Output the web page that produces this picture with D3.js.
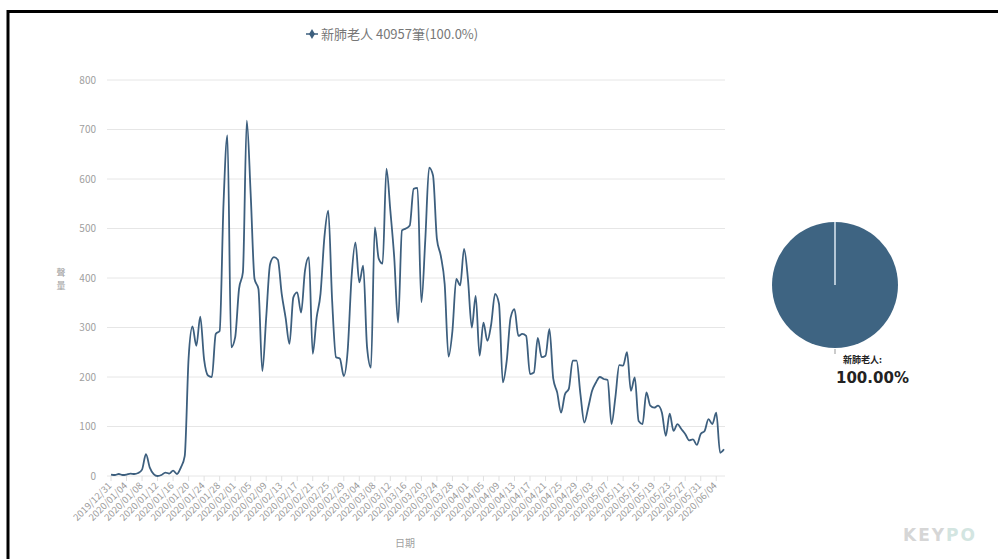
<!DOCTYPE html>
<html>
<head>
<meta charset="utf-8">
<script src="https://cdn.jsdelivr.net/npm/d3@7"></script>
<style>
  body { margin: 0; background: #fff; }
  svg { display: block; font-family: "Noto Sans CJK TC", "Noto Sans", sans-serif; }
</style>
</head>
<body>
<div id="content"></div>
<script>
//-- data
const seriesName = "新肺老人";
const seriesTotal = "40957筆(100.0%)";
const xTitle = "日期";
const yTitle = "聲量";
const dailyCounts = [
  3, 2, 4, 2, 3, 5, 4, 6, 13, 44, 17, 4, 0, 2, 7, 5, 11, 4, 17, 40,
  238, 302, 263, 322, 235, 203, 200, 287, 293, 550, 688, 260, 280, 378, 412, 718, 570, 398, 378, 212,
  320, 428, 442, 437, 368, 320, 267, 361, 371, 330, 415, 442, 247, 320, 368, 482, 536, 354, 240, 237,
  202, 253, 401, 472, 391, 425, 260, 219, 502, 439, 429, 621, 536, 442, 310, 496, 500, 506, 580, 582,
  351, 476, 623, 607, 479, 445, 388, 241, 293, 398, 385, 459, 398, 300, 364, 243, 310, 273, 307, 368,
  348, 189, 233, 320, 337, 283, 287, 283, 206, 209, 279, 240, 243, 297, 196, 169, 128, 165, 176, 233,
  233, 165, 108, 138, 172, 189, 200, 196, 194, 105, 159, 224, 223, 250, 172, 199, 111, 105, 169, 142,
  138, 142, 128, 81, 126, 91, 105, 95, 85, 72, 74, 63, 85, 91, 115, 105, 128, 47, 54
];
const tickLabels = [
  "2019/12/31", "2020/01/04", "2020/01/08", "2020/01/12", "2020/01/16", "2020/01/20", "2020/01/24", "2020/01/28",
  "2020/02/01", "2020/02/05", "2020/02/09", "2020/02/13", "2020/02/17", "2020/02/21", "2020/02/25", "2020/02/29",
  "2020/03/04", "2020/03/08", "2020/03/12", "2020/03/16", "2020/03/20", "2020/03/24", "2020/03/28",
  "2020/04/01", "2020/04/05", "2020/04/09", "2020/04/13", "2020/04/17", "2020/04/21", "2020/04/25", "2020/04/29",
  "2020/05/03", "2020/05/07", "2020/05/11", "2020/05/15", "2020/05/19", "2020/05/23", "2020/05/27", "2020/05/31",
  "2020/06/04"
];
const tickStep = 4; //-- one label every 4 days
const yTicks = [0, 100, 200, 300, 400, 500, 600, 700, 800];
const pieNames = ["新肺老人"];
const pieShares = [100];

//-- dimensions
const width = 998;
const height = 559;
const plot = { left: 107, right: 725, top: 80, bottom: 476 };
const lineColor = "#3d5f7e";
const pieColor = "#3e6482";

const svg = d3
  .select("#content")
  .append("svg")
  .attr("width", width)
  .attr("height", height);

//-- frame
svg
  .append("rect")
  .attr("x", 8)
  .attr("y", 11.5)
  .attr("width", width + 20)
  .attr("height", height + 20)
  .attr("fill", "none")
  .attr("stroke", "#000")
  .attr("stroke-width", 3);

//-- scales
const x = d3
  .scaleLinear()
  .domain([0, dailyCounts.length - 1])
  .range([111, 724]);
const y = d3
  .scaleLinear()
  .domain([0, 800])
  .range([plot.bottom, plot.top]);

//-- y gridlines + labels
const yAxis = svg.append("g").attr("class", "y-axis");
yAxis
  .selectAll("line")
  .data(yTicks)
  .join("line")
  .attr("x1", plot.left)
  .attr("x2", plot.right)
  .attr("y1", (d) => y(d))
  .attr("y2", (d) => y(d))
  .attr("stroke", "#e6e6e6")
  .attr("stroke-width", 1);
yAxis
  .selectAll("text")
  .data(yTicks)
  .join("text")
  .attr("x", 96)
  .attr("y", (d) => y(d))
  .attr("dy", "0.35em")
  .attr("text-anchor", "end")
  .attr("fill", "#a0a0a0")
  .style("font-size", "10px")
  .text((d) => d);

//-- y title, one character per row
svg
  .append("g")
  .selectAll("text")
  .data(yTitle.split(""))
  .join("text")
  .attr("x", 61)
  .attr("y", (d, i) => 273 + i * 13)
  .attr("text-anchor", "middle")
  .attr("dy", "0.35em")
  .attr("fill", "#a0a0a0")
  .style("font-size", "9px")
  .text((d) => d);

//-- x axis ticks + rotated labels
const xAxis = svg.append("g").attr("class", "x-axis");
xAxis
  .selectAll("line")
  .data(tickLabels)
  .join("line")
  .attr("x1", (d, i) => x(i * tickStep))
  .attr("x2", (d, i) => x(i * tickStep))
  .attr("y1", plot.bottom)
  .attr("y2", plot.bottom + 5)
  .attr("stroke", "#e0e0e0");
xAxis
  .selectAll("text")
  .data(tickLabels)
  .join("text")
  .attr("transform", (d, i) => `translate(${x(i * tickStep) - 1},${plot.bottom + 8}) rotate(-45)`)
  .attr("text-anchor", "end")
  .attr("dy", "0.35em")
  .attr("fill", "#999")
  .style("font-size", "9.5px")
  .text((d) => d);

svg
  .append("text")
  .attr("x", 405)
  .attr("y", 547)
  .attr("text-anchor", "middle")
  .attr("fill", "#a0a0a0")
  .style("font-size", "10px")
  .text(xTitle);

//-- the line
const line = d3
  .line()
  .x((d, i) => x(i))
  .y((d) => y(d))
  .curve(d3.curveMonotoneX);
svg
  .append("path")
  .datum(dailyCounts)
  .attr("d", line)
  .attr("fill", "none")
  .attr("stroke", lineColor)
  .attr("stroke-width", 1.8)
  .attr("stroke-linejoin", "round");

//-- legend
const legend = svg.append("g").attr("transform", "translate(312,34)");
legend
  .append("line")
  .attr("x1", -6)
  .attr("x2", 6)
  .attr("stroke", lineColor)
  .attr("stroke-width", 1.5);
legend
  .append("path")
  .attr("d", d3.symbol(d3.symbolDiamond, 30))
  .attr("fill", lineColor);
legend
  .append("text")
  .attr("x", 9)
  .attr("dy", "0.35em")
  .attr("fill", "#777")
  .style("font-size", "13px")
  .text(`${seriesName} ${seriesTotal}`);

//-- pie
const pieCx = 835, pieCy = 285, pieR = 63;
const pieG = svg.append("g").attr("transform", `translate(${pieCx},${pieCy})`);
const slices = d3.pie().sort(null)(pieShares);
const arc = d3.arc().innerRadius(0).outerRadius(pieR);
pieG
  .selectAll("path")
  .data(slices)
  .join("path")
  .attr("d", arc)
  .attr("fill", pieColor);
//-- slice edge (start = end for a full slice)
slices.forEach((s) => {
  const [ex, ey] = d3.pointRadial(s.startAngle, pieR);
  pieG
    .append("line")
    .attr("x1", 0)
    .attr("y1", 0)
    .attr("x2", ex)
    .attr("y2", ey)
    .attr("stroke", "#dce8f2")
    .attr("stroke-width", 1.5);
  const mid = (s.startAngle + s.endAngle) / 2;
  const [c1x, c1y] = d3.pointRadial(mid, pieR + 1);
  const [c2x, c2y] = d3.pointRadial(mid, pieR + 6);
  pieG
    .append("line")
    .attr("x1", c1x)
    .attr("y1", c1y)
    .attr("x2", c2x)
    .attr("y2", c2y)
    .attr("stroke", "#999");
  const lbl = pieG
    .append("text")
    .attr("transform", `translate(${c2x + 8},${c2y + 9})`)
    .attr("fill", "#222");
  lbl
    .append("tspan")
    .attr("x", 0)
    .style("font-size", "9px")
    .style("font-weight", "bold")
    .text(pieNames[s.index] + ":");
  lbl
    .append("tspan")
    .attr("x", -7)
    .attr("dy", 20)
    .style("font-size", "15px")
    .style("font-weight", "bold")
    .style("font-family", "'DejaVu Sans', sans-serif")
    .text(pieShares[s.index].toFixed(2) + "%");
});

//-- watermark
const mark = svg
  .append("text")
  .attr("x", 940)
  .attr("y", 541)
  .attr("text-anchor", "middle")
  .style("font-family", "'DejaVu Sans', sans-serif")
  .style("font-size", "17px")
  .style("font-weight", "bold")
  .style("letter-spacing", "2px");
mark.append("tspan").attr("fill", "#d6d6d6").text("KEY");
mark.append("tspan").attr("fill", "#d3e5e1").text("PO");
</script>
</body>
</html>
